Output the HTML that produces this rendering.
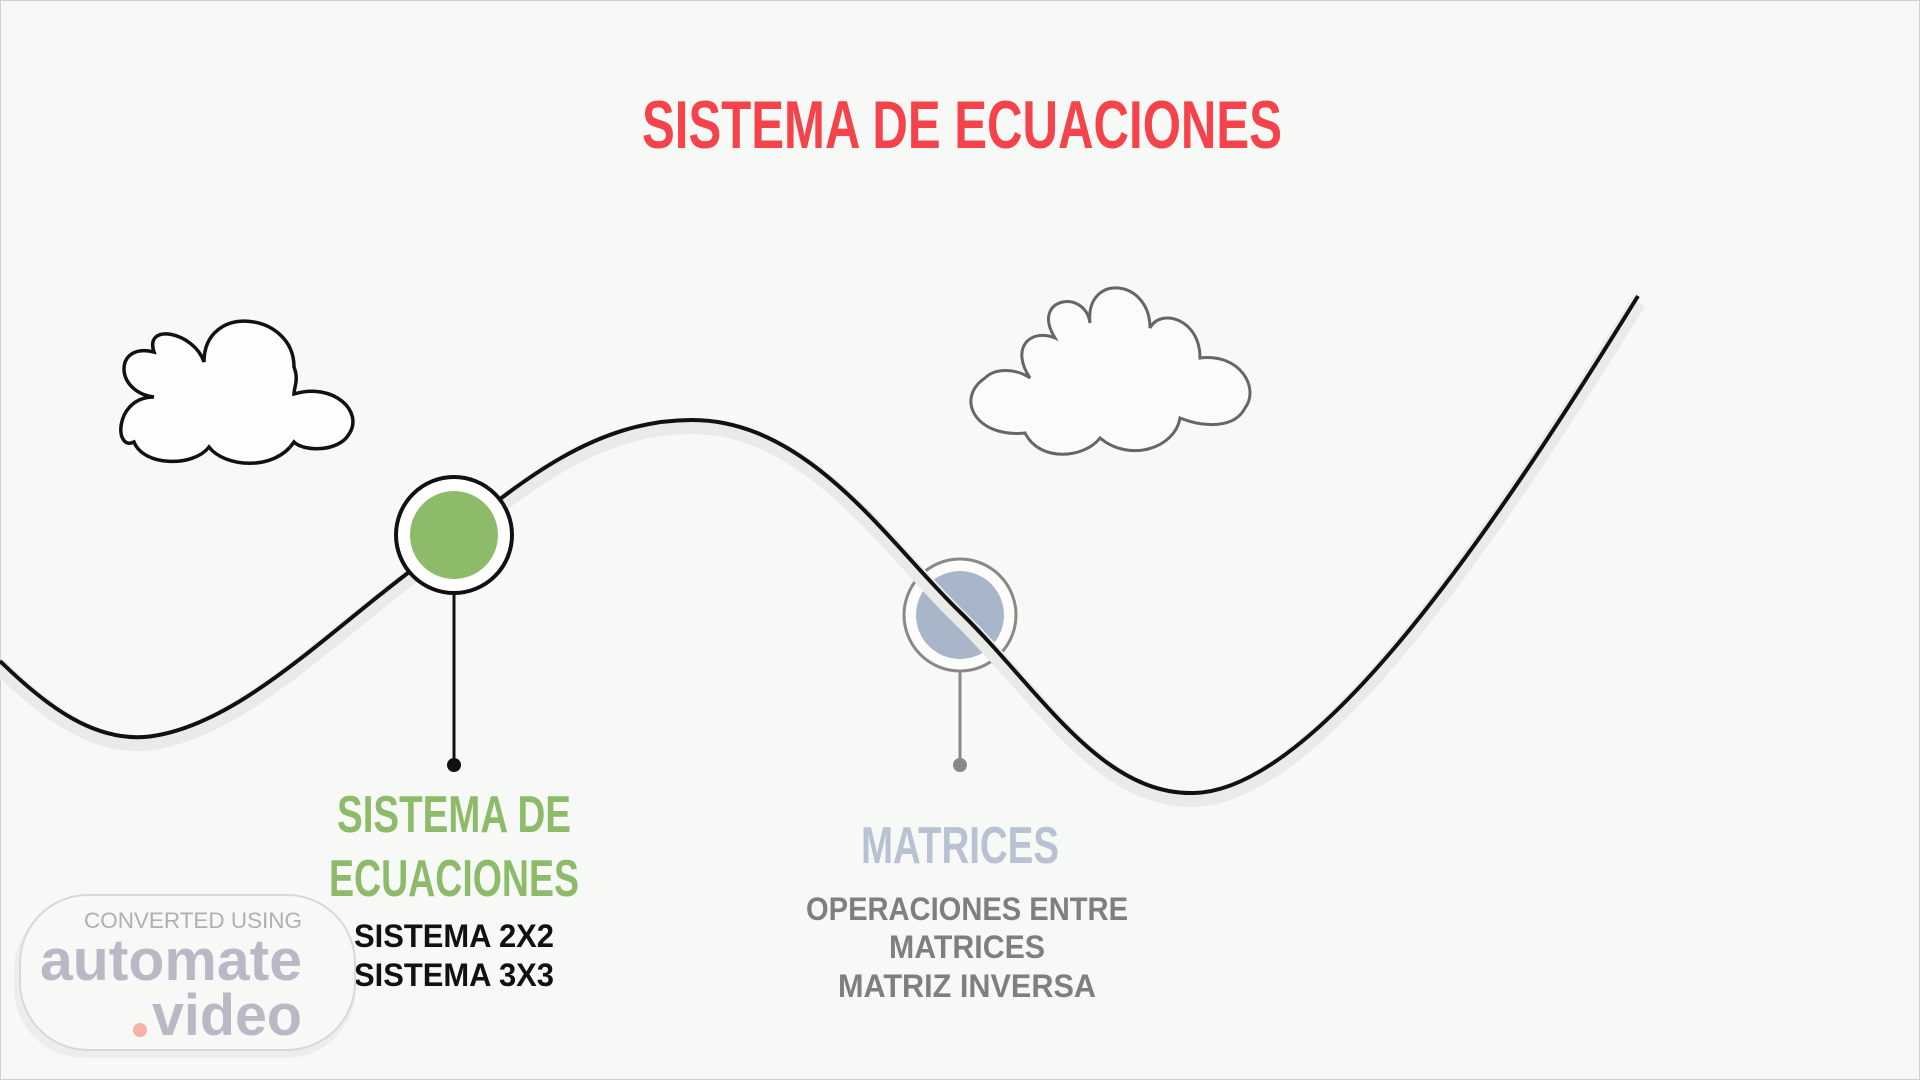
<!DOCTYPE html>
<html><head><meta charset="utf-8"><style>
html,body{margin:0;padding:0;background:#f7f9f6;}
svg{display:block;}
text{font-family:"Liberation Sans",sans-serif;font-weight:bold;}
</style></head><body>
<svg width="1920" height="1080" viewBox="0 0 1920 1080" xmlns="http://www.w3.org/2000/svg">
<rect x="0.5" y="0.5" width="1919" height="1079" fill="#f7f9f6" stroke="#d0d0d0"/>
<text x="962" y="148" text-anchor="middle" font-size="68" fill="#f5434b" textLength="640" lengthAdjust="spacingAndGlyphs">SISTEMA DE ECUACIONES</text>

<!-- gray node (under curve) -->
<circle cx="960" cy="615" r="56" fill="#fff" fill-opacity="0.6" stroke="#888" stroke-width="3"/>
<circle cx="960" cy="615" r="44" fill="#a9b5c8"/>

<!-- curve shadow -->
<path d="M0,661 C50,710 95,740 144,737 C230,730 320,640 404,576 C500,500 580,420 692,420 C810,420 890,545 960,612 C1040,690 1100,795 1194,793 C1320,790 1500,520 1638,296" fill="none" stroke="#e9ebe8" stroke-width="16" transform="translate(0,6)"/>
<path d="M0,661 C50,710 95,740 144,737 C230,730 320,640 404,576 C500,500 580,420 692,420 C810,420 890,545 960,612 C1040,690 1100,795 1194,793 C1320,790 1500,520 1638,296" fill="none" stroke="#111" stroke-width="4"/>

<!-- left cloud -->
<g fill="#fdfdfd" stroke="#111" stroke-width="3.5">
<path d="M150,395 C110,390 110,340 150,350 C140,320 190,330 200,360 C200,300 290,310 290,365 C295,378 290,385 290,392 C330,380 360,410 345,432 C335,450 300,450 290,440 C270,470 220,465 205,445 C190,465 140,465 130,440 C110,450 110,395 150,395 Z" transform="translate(4,2)"/>
</g>
<!-- right cloud -->
<g fill="#fbfbfb" stroke="#666" stroke-width="3">
<path d="M1030,370 C1010,340 1030,320 1055,330 C1030,290 1085,280 1090,315 C1085,265 1150,270 1150,320 C1160,300 1200,310 1200,350 C1240,345 1260,380 1245,400 C1235,420 1205,420 1180,410 C1175,440 1130,455 1100,430 C1085,450 1040,455 1025,425 C975,430 955,390 985,370 C995,360 1015,360 1030,370 Z" transform="translate(0,8)"/>
</g>

<!-- green node -->
<circle cx="454" cy="535" r="58" fill="#fff" stroke="#111" stroke-width="4"/>
<circle cx="454" cy="535" r="44" fill="#8dbb6a"/>
<line x1="454" y1="594" x2="454" y2="765" stroke="#111" stroke-width="3"/>
<circle cx="454" cy="765" r="7" fill="#111"/>

<line x1="960" y1="672" x2="960" y2="765" stroke="#888" stroke-width="3"/>
<circle cx="960" cy="765" r="7" fill="#888"/>

<!-- labels -->
<text x="454" y="832" text-anchor="middle" font-size="52" fill="#8dbb6a" textLength="234" lengthAdjust="spacingAndGlyphs">SISTEMA DE</text>
<text x="454" y="896" text-anchor="middle" font-size="52" fill="#8dbb6a" textLength="250" lengthAdjust="spacingAndGlyphs">ECUACIONES</text>
<text x="454" y="947" text-anchor="middle" font-size="32" fill="#111" textLength="200" lengthAdjust="spacingAndGlyphs">SISTEMA 2X2</text>
<text x="454" y="986" text-anchor="middle" font-size="32" fill="#111" textLength="200" lengthAdjust="spacingAndGlyphs">SISTEMA 3X3</text>

<text x="960" y="863" text-anchor="middle" font-size="52" fill="#b8c2d2" textLength="198" lengthAdjust="spacingAndGlyphs">MATRICES</text>
<text x="967" y="920" text-anchor="middle" font-size="32" fill="#7f7f7f" textLength="322" lengthAdjust="spacingAndGlyphs">OPERACIONES ENTRE</text>
<text x="967" y="958" text-anchor="middle" font-size="32" fill="#7f7f7f" textLength="156" lengthAdjust="spacingAndGlyphs">MATRICES</text>
<text x="967" y="997" text-anchor="middle" font-size="32" fill="#7f7f7f" textLength="258" lengthAdjust="spacingAndGlyphs">MATRIZ INVERSA</text>

<!-- watermark -->
<rect x="14" y="900" width="342" height="158" rx="70" fill="#e6e6e6" opacity="0.6"/>
<rect x="20" y="895" width="335" height="155" rx="68" fill="#f8f8f8" fill-opacity="0.9" stroke="#d8d8d8" stroke-width="2"/>
<text x="302" y="928" text-anchor="end" font-size="22" fill="#b0b0b0" style="font-weight:normal" textLength="218" lengthAdjust="spacingAndGlyphs">CONVERTED USING</text>
<text x="302" y="980" text-anchor="end" font-size="58" fill="#b9b9c6" textLength="262" lengthAdjust="spacingAndGlyphs">automate</text>
<text x="302" y="1035" text-anchor="end" font-size="58" fill="#b9b9c6" textLength="150" lengthAdjust="spacingAndGlyphs">video</text>
<circle cx="140" cy="1030" r="7" fill="#f6b2a8"/>
</svg>
</body></html>
